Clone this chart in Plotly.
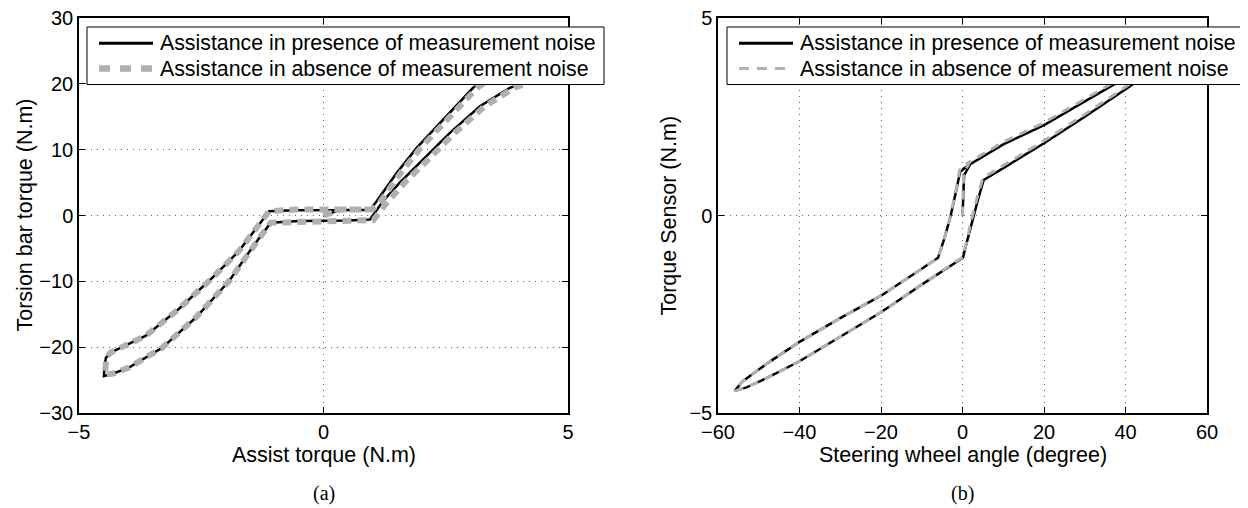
import plotly.graph_objects as go

# the page body has an 8 px margin, so the figure is drawn from (8, 8) of the window
OFF = 8
W, H = 1248 - OFF, 508 - OFF

# ---------------- data: panel (a) ----------------
# Assist torque (N.m) vs torsion bar torque (N.m), closed hysteresis loop
a_noise_x = [0.0, 0.35, 0.6, 0.95, 1.09, 1.3, 1.5, 1.91, 2.45, 3.06, 3.7, 4.2, 4.45, 4.47, 4.45, 4.35,
             3.81, 3.2, 2.59, 2.04, 1.56, 1.22, 0.95, 0.5, 0.0, -0.5, -1.08, -1.25, -1.46, -1.93,
             -2.61, -3.30, -3.98, -4.3, -4.49, -4.48, -4.45, -4.35, -3.64, -2.96, -2.27, -1.73,
             -1.32, -1.11, -0.6, 0.0, 0.5, 0.95]
a_noise_y = [0.0, 0.85, 0.85, 0.85, 2.2, 4.5, 6.5, 10.3, 14.6, 19.4, 22.8, 24.3, 24.6, 23.0, 21.6, 20.8,
             19.4, 16.6, 12.6, 8.5, 5.0, 2.2, -0.6, -0.75, -0.8, -0.85, -1.1, -2.8, -4.9, -9.95,
             -15.5, -20.1, -23.1, -24.0, -24.4, -23.0, -21.6, -20.8, -18.3, -14.2, -9.45, -5.4,
             -1.36, 0.65, 0.8, 0.85, 0.85, 0.85]

a_clean_x = [0.0, 0.35, 0.6, 1.0, 1.17, 1.38, 1.58, 1.99, 2.53, 3.14, 3.78, 4.27, 4.5, 4.5, 4.48, 4.42,
             3.9, 3.3, 2.69, 2.14, 1.66, 1.32, 1.02, 0.5, 0.0, -0.5, -1.08, -1.25, -1.46, -1.93,
             -2.61, -3.30, -3.98, -4.3, -4.47, -4.46, -4.44, -4.35, -3.64, -2.96, -2.27, -1.73,
             -1.32, -1.11, -0.6, 0.0, 0.5, 1.0]
a_clean_y = [0.0, 0.9, 0.9, 0.9, 2.2, 4.5, 6.5, 10.3, 14.6, 19.4, 22.8, 24.3, 24.5, 23.0, 21.6, 20.8,
             19.4, 16.6, 12.6, 8.5, 5.0, 2.2, -0.7, -0.8, -0.85, -0.9, -1.1, -2.8, -4.9, -9.95,
             -15.5, -20.1, -23.1, -24.0, -24.2, -23.0, -21.6, -20.8, -18.3, -14.2, -9.45, -5.4,
             -1.36, 0.65, 0.9, 0.9, 0.9, 0.9]

# ---------------- data: panel (b) ----------------
# Steering wheel angle (degree) vs torque sensor (N.m)
b_noise_x = [0.0, 0.4, 1.9, 10.0, 20.0, 30.0, 36.2, 46.0, 55.9, 50.0, 41.1, 30.0, 20.0, 10.0, 7.0,
             5.2, 3.8, 2.2, 1.0, 0.1, -10.0, -20.0, -30.0, -40.0, -47.7, -53.0, -55.9, -54.0, -48.0,
             -40.0, -30.0, -20.0, -10.0, -6.0, -4.5, -3.0, -1.5, -0.6, 0.5, 1.9]
b_noise_y = [0.0, 1.02, 1.3, 1.8, 2.29, 2.89, 3.27, 3.85, 4.44, 3.95, 3.27, 2.5, 1.83, 1.2, 1.02,
             0.9, 0.4, -0.2, -0.7, -1.07, -1.75, -2.45, -3.07, -3.69, -4.1, -4.35, -4.44, -4.2, -3.75,
             -3.2, -2.6, -2.03, -1.35, -1.07, -0.6, -0.05, 0.65, 1.1, 1.2, 1.3]

b_clean_x = [0.0, 0.3, 1.8, 10.0, 20.0, 30.0, 36.2, 46.0, 55.9, 50.0, 41.1, 30.0, 20.0, 10.0, 7.0,
             5.0, 3.6, 2.1, 1.0, 0.1, -10.0, -20.0, -30.0, -40.0, -47.7, -53.0, -55.9, -54.0, -48.0,
             -40.0, -30.0, -20.0, -10.0, -6.0, -4.5, -3.0, -1.5, -0.7, 0.4, 1.8]
b_clean_y = [0.0, 1.08, 1.36, 1.86, 2.35, 2.95, 3.32, 3.9, 4.48, 4.0, 3.33, 2.56, 1.89, 1.26, 1.08,
             0.95, 0.45, -0.15, -0.67, -1.05, -1.75, -2.45, -3.07, -3.69, -4.1, -4.35, -4.44, -4.2, -3.75,
             -3.2, -2.6, -2.03, -1.35, -1.07, -0.6, -0.02, 0.7, 1.15, 1.27, 1.36]

legend_names = ["Assistance in presence of measurement noise",
                "Assistance in absence of measurement noise"]

a_xticks = [-5, 0, 5]
a_yticks = [-30, -20, -10, 0, 10, 20, 30]
b_xticks = [-60, -40, -20, 0, 20, 40, 60]
b_yticks = [-5, 0, 5]

FONT = "Liberation Sans, Arial, Helvetica, sans-serif"
SERIF = "Liberation Serif, Times New Roman, serif"

BLACK_LINE = dict(color="black", width=2.5)
GRAY_A = dict(color="#b0b0b0", width=6, dash="9px,6px")
GRAY_B = dict(color="#b0b0b0", width=3, dash="9px,7px")

fig = go.Figure()

fig.add_trace(go.Scatter(x=a_noise_x, y=a_noise_y, mode="lines", name=legend_names[0],
                         line=BLACK_LINE, xaxis="x", yaxis="y"))
fig.add_trace(go.Scatter(x=a_clean_x, y=a_clean_y, mode="lines", name=legend_names[1],
                         line=GRAY_A, xaxis="x", yaxis="y"))
fig.add_trace(go.Scatter(x=b_noise_x, y=b_noise_y, mode="lines", name=legend_names[0],
                         line=BLACK_LINE, xaxis="x2", yaxis="y2"))
fig.add_trace(go.Scatter(x=b_clean_x, y=b_clean_y, mode="lines", name=legend_names[1],
                         line=GRAY_B, xaxis="x2", yaxis="y2"))


def px(v):
    """window x pixel -> paper fraction"""
    return (v - OFF) / W


def py(v):
    """window y pixel (from top) -> paper fraction"""
    return 1 - (v - OFF) / H


axis_common = dict(showline=True, linecolor="black", linewidth=1.5, mirror="ticks",
                   ticks="inside", ticklen=6, tickcolor="black", tickwidth=1,
                   showgrid=True, gridcolor="#606060", griddash="1px,5px", gridwidth=1,
                   zeroline=False, automargin=False, ticklabeloverflow="allow",
                   tickfont=dict(size=20, color="black", family=FONT))

dom_y = [py(413), py(18)]
fig.update_layout(
    template="none",
    width=W, height=H,
    margin=dict(l=0, r=0, t=0, b=0, pad=0),
    paper_bgcolor="white", plot_bgcolor="white",
    font=dict(family=FONT, color="black", size=20),
    showlegend=False,
    xaxis=dict(domain=[px(79), px(568)], range=[-5, 5], tickvals=a_xticks, anchor="y", **axis_common),
    yaxis=dict(domain=dom_y, range=[-30, 30], tickvals=a_yticks, anchor="x", **axis_common),
    xaxis2=dict(domain=[px(718), px(1207)], range=[-60, 60], tickvals=b_xticks, anchor="y2", **axis_common),
    yaxis2=dict(domain=dom_y, range=[-5, 5], tickvals=b_yticks, anchor="x2", **axis_common),
)

# legend boxes (drawn on top of the curves, like the original figure)
for off, gray in [(0, GRAY_A), (640, GRAY_B)]:
    fig.add_shape(type="rect", xref="paper", yref="paper", layer="above",
                  x0=px(87 + off), x1=px(604 + off), y0=py(84.5), y1=py(27),
                  fillcolor="white", line=dict(color="black", width=1))
    fig.add_shape(type="line", xref="paper", yref="paper", layer="above",
                  x0=px(99 + off), x1=px(153 + off), y0=py(43.3), y1=py(43.3),
                  line=dict(color="black", width=3))
    gdash = "11px,10px" if off == 0 else "10px,8px"
    gw = 6.5 if off == 0 else 3
    fig.add_shape(type="line", xref="paper", yref="paper", layer="above",
                  x0=px(99 + off), x1=px(153 + off), y0=py(68.5), y1=py(68.5),
                  line=dict(color="#b0b0b0", width=gw, dash=gdash))
    for name, yc in zip(legend_names, [43.3, 68.8]):
        fig.add_annotation(text=name, xref="paper", yref="paper", x=px(157.5 + off), y=py(yc),
                           xanchor="left", yanchor="middle", showarrow=False,
                           font=dict(size=21.3, family=FONT, color="black"))

annots = [
    dict(text="Assist torque (N.m)", x=px(323.5), y=py(455)),
    dict(text="Steering wheel angle (degree)", x=px(962.5), y=py(455)),
    dict(text="Torsion bar torque (N.m)", x=px(24), y=py(215.5), textangle=-90),
    dict(text="Torque Sensor (N.m)", x=px(668), y=py(215.5), textangle=-90),
]
for a in annots:
    fig.add_annotation(xref="paper", yref="paper", showarrow=False, xanchor="center", yanchor="middle",
                       font=dict(size=21.5, family=FONT, color="black"), **a)
for t, xc in [("(a)", 323.5), ("(b)", 962.5)]:
    fig.add_annotation(text=t, xref="paper", yref="paper", x=px(xc), y=py(493), showarrow=False,
                       xanchor="center", yanchor="middle", font=dict(size=20, family=SERIF, color="black"))

fig.write_html("out.html")
